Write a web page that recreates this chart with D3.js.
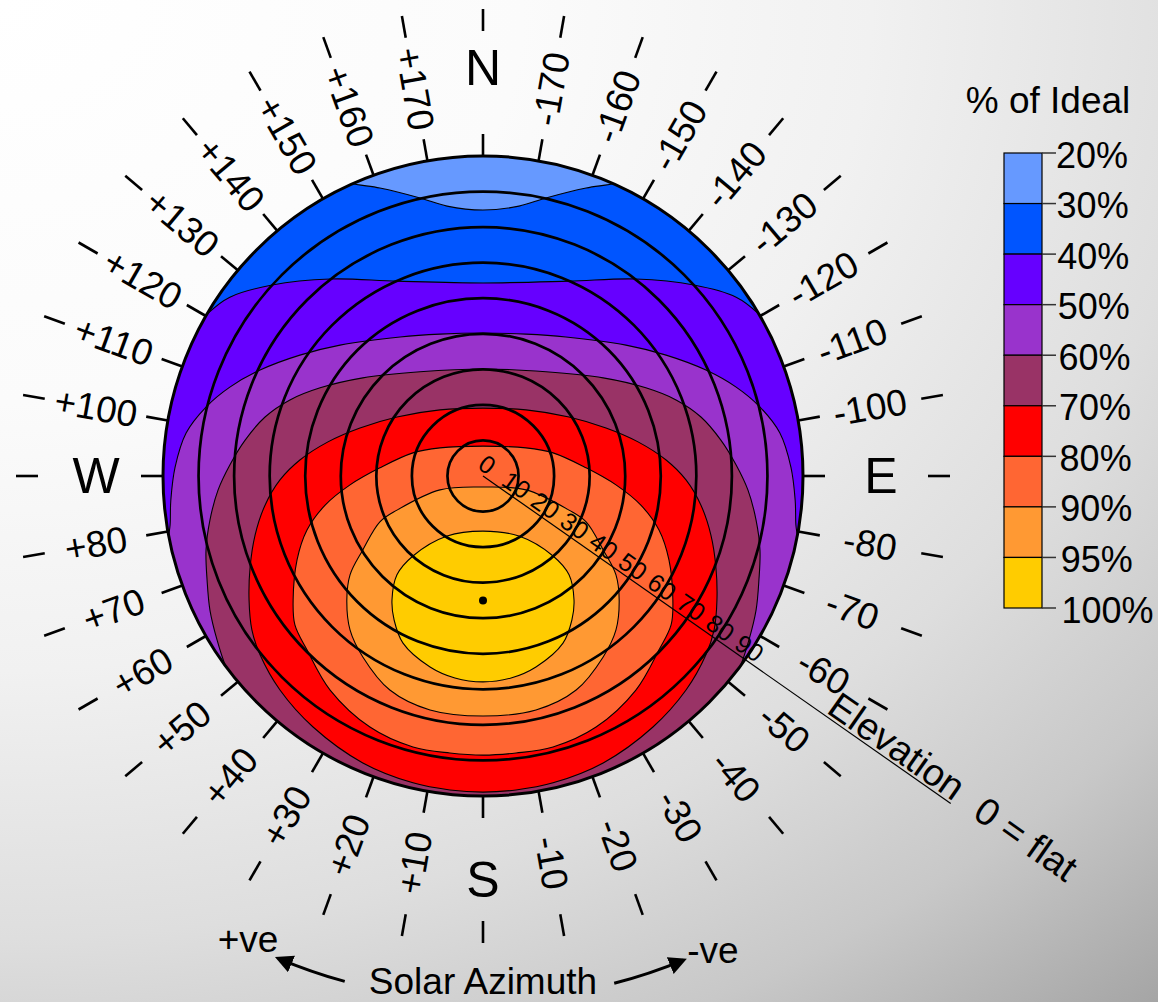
<!DOCTYPE html>
<html><head><meta charset="utf-8">
<script src="https://cdn.jsdelivr.net/npm/d3@7"></script>
<style>
html,body{margin:0;padding:0;overflow:hidden;background:#fff;}
svg{display:block;font-family:"Liberation Sans",Arial,sans-serif;}
</style></head><body>
<svg id="chart" width="1158" height="1002"></svg>
<script>
// ---------------- DATA ----------------
// Azimuth ticks (degrees, + = west/left, - = east/right, 0 = south)
const azimuthTicks = [180,170,160,150,140,130,120,110,100,90,80,70,60,50,40,30,20,10,0,
  -10,-20,-30,-40,-50,-60,-70,-80,-90,-100,-110,-120,-130,-140,-150,-160,-170];
const compassNames = {"0":"S","90":"W","-90":"E","180":"N"};
// Elevation (panel tilt) circles and labels
const elevationCircles = [10,20,30,40,50,60,70,80];
const elevationLabels = [0,10,20,30,40,50,60,70,80,90];
const elevationAxisAzimuth = -55;
const optimum = {azimuth:0, elevation:35};
// Legend
const legendLevels = ["20%","30%","40%","50%","60%","70%","80%","90%","95%","100%"];
const bandColors = ["#6699FF","#0055FF","#6600FF","#9933CC","#993366","#FF0000","#FF6633","#FF9933","#FFCC00"];
// Contour boundaries, as tilt components in degrees: [toward east (+right), toward south (+down)]
const contour30 = [[-43.0,-84.7],[-37.4,-82.4],[-29.0,-81.0],[-17.7,-78.2],[-10.1,-75.9],[0,-74.8],[10.1,-75.9],[17.7,-78.2],[29.0,-81.0],[37.4,-82.4],[43.0,-84.7]];
const contour40 = [[-82.4,-39.7],[-77.3,-45.8],[-71.2,-50.3],[-59.3,-53.7],[-43.0,-55.4],[-24.2,-54.8],[0,-54.3],[24.2,-54.8],[43.0,-55.4],[59.3,-53.7],[71.2,-50.3],[77.3,-45.8],[82.4,-39.7]];
const contour50 = [[-82.4,40.5],[-86.6,29.3],[-88.6,19.4],[-88.0,13.8],[-87.8,6.8],[-86.6,-2.5],[-83.5,-12.1],[-77.9,-19.4],[-71.2,-25.0],[-62.7,-29.8],[-51.5,-34.0],[-40.2,-36.8],[-23.3,-39.1],[-12.1,-39.9],[0,-40.2],[12.1,-39.9],[23.3,-39.1],[40.2,-36.8],[51.5,-34.0],[62.7,-29.8],[71.2,-25.0],[77.9,-19.4],[83.5,-12.1],[86.6,-2.5],[87.8,6.8],[88.0,13.8],[88.6,19.4],[86.6,29.3],[82.4,40.5]];
const contour60 = [[-61.3,71.4],[-68.3,61.6],[-72.3,53.7],[-74.8,46.1],[-76.8,37.7],[-77.6,29.3],[-77.9,20.8],[-76.8,12.4],[-74.5,3.9],[-71.2,-3.1],[-66.9,-10.1],[-61.3,-16.6],[-54.3,-21.4],[-45.8,-24.8],[-33.8,-27.6],[-17.7,-29.3],[0,-30.1],[17.7,-29.3],[33.8,-27.6],[45.8,-24.8],[54.3,-21.4],[61.3,-16.6],[66.9,-10.1],[71.2,-3.1],[74.5,3.9],[76.8,12.4],[77.9,20.8],[77.6,29.3],[76.8,37.7],[74.8,46.1],[72.3,53.7],[68.3,61.6],[61.3,71.4]];
const contour70 = [[0,-19.1],[-12.1,-18.6],[-24.2,-16.6],[-34.6,-13.5],[-43.6,-9.6],[-51.5,-4.5],[-57.1,1.1],[-61.3,8.2],[-64.1,16.6],[-65.5,25.6],[-65.8,34.9],[-65.0,43.3],[-62.7,50.3],[-57.1,60.2],[-47.8,70.6],[-33.8,80.7],[-19.7,86.3],[-9.3,88.3],[0,88.9],[9.3,88.3],[19.7,86.3],[33.8,80.7],[47.8,70.6],[57.1,60.2],[62.7,50.3],[65.0,43.3],[65.8,34.9],[65.5,25.6],[64.1,16.6],[61.3,8.2],[57.1,1.1],[51.5,-4.5],[43.6,-9.6],[34.6,-13.5],[24.2,-16.6],[12.1,-18.6]];
const contour80 = [[0,-8.4],[-12.1,-7.9],[-19.7,-6.5],[-29.0,-2.3],[-37.4,2.5],[-44.4,8.2],[-49.5,15.2],[-52.3,23.6],[-53.4,34.9],[-52.9,41.9],[-49.5,48.9],[-43.0,60.2],[-31.8,70.6],[-19.7,76.2],[-9.3,77.9],[0,78.5],[9.3,77.9],[19.7,76.2],[31.8,70.6],[43.0,60.2],[49.5,48.9],[52.9,41.9],[53.4,34.9],[52.3,23.6],[49.5,15.2],[44.4,8.2],[37.4,2.5],[29.0,-2.3],[19.7,-6.5],[12.1,-7.9]];
const contour90 = [[0,3.1],[-12.1,3.9],[-24.2,9.6],[-29.0,12.9],[-33.8,20.8],[-37.4,27.8],[-38.3,34.9],[-37.4,43.3],[-33.8,50.9],[-26.2,60.2],[-14.9,65.8],[0,67.5],[14.9,65.8],[26.2,60.2],[33.8,50.9],[37.4,43.3],[38.3,34.9],[37.4,27.8],[33.8,20.8],[29.0,12.9],[24.2,9.6],[12.1,3.9]];
const contour95 = [[0,15.5],[-10.1,16.9],[-19.7,22.5],[-24.2,27.8],[-25.6,34.9],[-25.0,40.5],[-22.5,47.0],[-14.9,53.7],[-7.9,56.8],[0,57.9],[7.9,56.8],[14.9,53.7],[22.5,47.0],[25.0,40.5],[25.6,34.9],[24.2,27.8],[19.7,22.5],[10.1,16.9]];
const contourRegions = [
  {pts:contour30, open:true}, {pts:contour40, open:true}, {pts:contour50, open:true}, {pts:contour60, open:true},
  {pts:contour70, open:false}, {pts:contour80, open:false}, {pts:contour90, open:false}, {pts:contour95, open:false}
];

// ---------------- LAYOUT ----------------
const W = 1158, H = 1002;
const cx = 483, cy = 476, R = 320;
const compassRadius = {"S":404,"W":387,"E":398,"N":408};
const svg = d3.select("#chart");
const defs = svg.append("defs");

const bg = defs.append("radialGradient").attr("id","bg").attr("gradientUnits","userSpaceOnUse")
  .attr("cx",0).attr("cy",0).attr("r",1743).attr("gradientTransform","scale(1,0.769)");
[[0,255],[0.3,251],[0.5,241],[0.7,222],[0.85,200],[1,165]].forEach(([o,v])=>
  bg.append("stop").attr("offset",o).attr("stop-color",d3.rgb(v,v,v).formatHex()));
svg.append("rect").attr("width",W).attr("height",H).attr("fill","url(#bg)");

defs.append("clipPath").attr("id","disk").append("circle").attr("cx",cx).attr("cy",cy).attr("r",R);
defs.append("marker").attr("id","arrow").attr("viewBox","0 0 10 10").attr("refX",8).attr("refY",5)
  .attr("markerWidth",6).attr("markerHeight",6).attr("markerUnits","strokeWidth").attr("orient","auto")
  .append("path").attr("d","M0,0L10,5L0,10Z").attr("fill","#000");

const rScale = d3.scaleLinear().domain([0,90]).range([0,R]);
const xScale = d3.scaleLinear().domain([-90,90]).range([cx-R,cx+R]);
const yScale = d3.scaleLinear().domain([-90,90]).range([cy-R,cy+R]);
const rad = d => d*Math.PI/180;
function polar(az, rpx){ return [cx - rpx*Math.sin(rad(az)), cy + rpx*Math.cos(rad(az))]; }

// ---------------- CONTOUR BANDS ----------------
const gDisk = svg.append("g").attr("clip-path","url(#disk)");
gDisk.append("circle").attr("cx",cx).attr("cy",cy).attr("r",R).attr("fill",bandColors[0]);
const lineOpen = d3.line().x(d=>xScale(d[0])).y(d=>yScale(d[1])).curve(d3.curveCatmullRom.alpha(0.5));
const lineClosed = d3.line().x(d=>xScale(d[0])).y(d=>yScale(d[1])).curve(d3.curveCatmullRomClosed.alpha(0.5));
contourRegions.forEach((reg,i)=>{
  let d;
  if(reg.open){
    const first = reg.pts[0], last = reg.pts[reg.pts.length-1];
    d = lineOpen(reg.pts) +
      `L${xScale(130)},${yScale(last[1])}L${xScale(130)},${yScale(130)}` +
      `L${xScale(-130)},${yScale(130)}L${xScale(-130)},${yScale(first[1])}Z`;
  } else d = lineClosed(reg.pts);
  gDisk.append("path").attr("d",d).attr("fill",bandColors[i+1]).attr("stroke","#000").attr("stroke-width",1.1);
});

// elevation circles
svg.append("g").selectAll("circle").data(elevationCircles).join("circle")
  .attr("cx",cx).attr("cy",cy).attr("r",d=>rScale(d))
  .attr("fill","none").attr("stroke","#000").attr("stroke-width",2.7);
svg.append("circle").attr("cx",cx).attr("cy",cy).attr("r",rScale(90))
  .attr("fill","none").attr("stroke","#000").attr("stroke-width",3);

// optimum dot
const op = polar(optimum.azimuth, rScale(optimum.elevation));
svg.append("circle").attr("cx",op[0]).attr("cy",op[1]).attr("r",4).attr("fill","#000");

// elevation axis
const axisAngle = 90 + elevationAxisAzimuth;
const a0 = polar(elevationAxisAzimuth, 0), a1 = polar(elevationAxisAzimuth, 571);
svg.append("line").attr("x1",a0[0]).attr("y1",a0[1]).attr("x2",a1[0]).attr("y2",a1[1])
  .attr("stroke","#000").attr("stroke-width",1.2);
svg.append("g").selectAll("text").data(elevationLabels).join("text")
  .attr("transform",d=>{const p=polar(elevationAxisAzimuth, rScale(d)); return `translate(${p[0]},${p[1]}) rotate(${axisAngle})`;})
  .attr("x",-3).attr("y",-3).attr("text-anchor","middle").attr("font-size",25).attr("fill","#000")
  .text(d=>d);
[["Elevation",494,-3],["0 = flat",653,-1]].forEach(([t,r,dy])=>{
  const p = polar(elevationAxisAzimuth, r);
  svg.append("text").attr("transform",`translate(${p[0]},${p[1]}) rotate(${axisAngle})`)
    .attr("y",dy).attr("text-anchor","middle").attr("font-size",38).attr("fill","#000").text(t);
});

// ---------------- AZIMUTH RING ----------------
const ring = svg.append("g");
azimuthTicks.forEach(az=>{
  const p1=polar(az,R), p2=polar(az,R+22), q1=polar(az,445), q2=polar(az,467);
  ring.append("line").attr("x1",p1[0]).attr("y1",p1[1]).attr("x2",p2[0]).attr("y2",p2[1]).attr("stroke","#000").attr("stroke-width",2.6);
  ring.append("line").attr("x1",q1[0]).attr("y1",q1[1]).attr("x2",q2[0]).attr("y2",q2[1]).attr("stroke","#000").attr("stroke-width",2.6);
  const name = compassNames[String(az)];
  if(name){
    const p = polar(az, compassRadius[name]);
    ring.append("text").attr("x",p[0]).attr("y",p[1]).attr("text-anchor","middle")
      .attr("dominant-baseline","central").attr("font-size",50).attr("fill","#000").text(name);
  } else {
    const p = polar(az, 393);
    const a = rad(az);
    const dx = az<0 ? -Math.sin(a) : Math.sin(a);
    const dy = az<0 ? Math.cos(a) : -Math.cos(a);
    const ang = Math.atan2(dy,dx)*180/Math.PI;
    ring.append("text").attr("transform",`translate(${p[0]},${p[1]}) rotate(${ang})`)
      .attr("text-anchor","middle").attr("dominant-baseline","central")
      .attr("font-size",37).attr("fill","#000").text(az>0 ? "+"+az : String(az));
  }
});

// Solar azimuth arrows
const arcL = d3.path(); arcL.arc(cx,cy,524,rad(90+15.3),rad(90+23),false);
const arcR = d3.path(); arcR.arc(cx,cy,524,rad(90-14.5),rad(90-22.5),true);
[arcL,arcR].forEach(p=>svg.append("path").attr("d",p.toString()).attr("fill","none")
  .attr("stroke","#000").attr("stroke-width",3).attr("marker-end","url(#arrow)"));
svg.append("text").attr("x",483).attr("y",981).attr("text-anchor","middle").attr("dominant-baseline","central")
  .attr("font-size",37).text("Solar Azimuth");
svg.append("text").attr("x",248).attr("y",939).attr("text-anchor","middle").attr("dominant-baseline","central")
  .attr("font-size",37).text("+ve");
svg.append("text").attr("x",713).attr("y",950).attr("text-anchor","middle").attr("dominant-baseline","central")
  .attr("font-size",37).text("-ve");

// ---------------- LEGEND ----------------
const lg = svg.append("g");
const legendY = d3.scaleLinear().domain([0,bandColors.length]).range([153,608]);
lg.append("text").attr("x",1048).attr("y",100).attr("text-anchor","middle").attr("dominant-baseline","central")
  .attr("font-size",37).text("% of Ideal");
lg.selectAll("rect").data(bandColors).join("rect")
  .attr("x",1004).attr("width",38).attr("y",(d,i)=>legendY(i)).attr("height",(d,i)=>legendY(i+1)-legendY(i))
  .attr("fill",d=>d).attr("stroke","#000").attr("stroke-width",1.2);
lg.selectAll("line").data(legendLevels).join("line")
  .attr("x1",1042).attr("x2",1056).attr("y1",(d,i)=>legendY(i)).attr("y2",(d,i)=>legendY(i))
  .attr("stroke","#333").attr("stroke-width",1.5);
lg.selectAll("text.lv").data(legendLevels).join("text").attr("class","lv")
  .attr("x",(d,i)=>1056+i*0.6).attr("y",(d,i)=>legendY(i)+2).attr("dominant-baseline","central")
  .attr("font-size",36).text(d=>d);
</script></body></html>
